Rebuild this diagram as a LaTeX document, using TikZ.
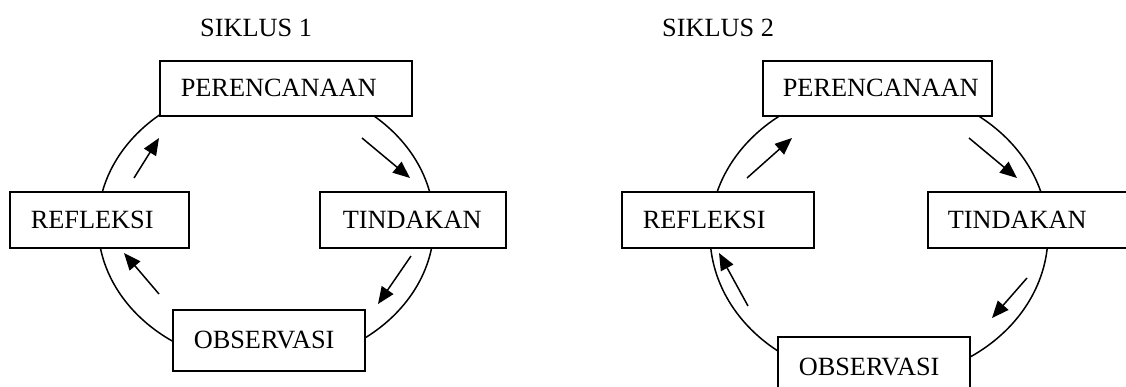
\documentclass[tikz,border=0pt]{standalone}
\usepackage{fontspec}
\setmainfont{Liberation Serif}
\usetikzlibrary{arrows.meta}
\begin{document}
\begin{tikzpicture}[x=1pt,y=-1pt,
  every node/.style={font=\fontsize{26.3}{30}\selectfont},
  box/.style={draw, line width=1.6pt, fill=white, anchor=north west, align=left, inner ysep=0pt},
  cyc/.style={line width=1.5pt},
  flow/.style={line width=1.5pt, -{Triangle[length=17pt,width=14pt]}},
  title/.style={anchor=base west, inner sep=0pt}]
\useasboundingbox (0,0) rectangle (1126,386);
% ---------- Siklus 1 ----------
\node[title] (t1) at (200,36.5) {SIKLUS 1};
\draw[cyc] (266,224) ellipse [x radius=168, y radius=141];
\node[box, text width=210pt, inner xsep=21pt, minimum height=55pt] (p1) at (159,60) {PERENCANAAN};
\node[box, text width=137pt, inner xsep=21pt, minimum height=56pt] (r1) at (9,191) {REFLEKSI};
\node[box, text width=140pt, inner xsep=23pt, minimum height=56pt] (k1) at (319,191) {TINDAKAN};
\node[box, text width=150pt, inner xsep=21pt, minimum height=61pt] (o1) at (172,309) {OBSERVASI};
\coordinate (a1s) at (134,178); \coordinate (a1e) at (159,138);
\coordinate (b1s) at (362,138); \coordinate (b1e) at (410,178);
\coordinate (c1s) at (411,256); \coordinate (c1e) at (378,304);
\coordinate (d1s) at (159,294); \coordinate (d1e) at (124,253);
\draw[flow] (a1s) -- (a1e);
\draw[flow] (b1s) -- (b1e);
\draw[flow] (c1s) -- (c1e);
\draw[flow] (d1s) -- (d1e);
% ---------- Siklus 2 ----------
\node[title] (t2) at (662,36.5) {SIKLUS 2};
\draw[cyc] (879,234) ellipse [x radius=169, y radius=146];
\node[box, text width=189pt, inner xsep=20pt, minimum height=55pt] (p2) at (762,60) {PERENCANAAN};
\node[box, text width=150pt, inner xsep=21pt, minimum height=56pt] (r2) at (621,191) {REFLEKSI};
\node[box, text width=190pt, inner xsep=20pt, minimum height=56pt] (k2) at (927,191) {TINDAKAN};
\node[box, text width=150pt, inner xsep=21pt, minimum height=61pt] (o2) at (777,336) {OBSERVASI};
\coordinate (a2s) at (747,178); \coordinate (a2e) at (792,138);
\coordinate (b2s) at (969,138); \coordinate (b2e) at (1017,178);
\coordinate (c2s) at (1027,278); \coordinate (c2e) at (992,318);
\coordinate (d2s) at (748,306); \coordinate (d2e) at (719,253);
\draw[flow] (a2s) -- (a2e);
\draw[flow] (b2s) -- (b2e);
\draw[flow] (c2s) -- (c2e);
\draw[flow] (d2s) -- (d2e);
\end{tikzpicture}
\end{document}
